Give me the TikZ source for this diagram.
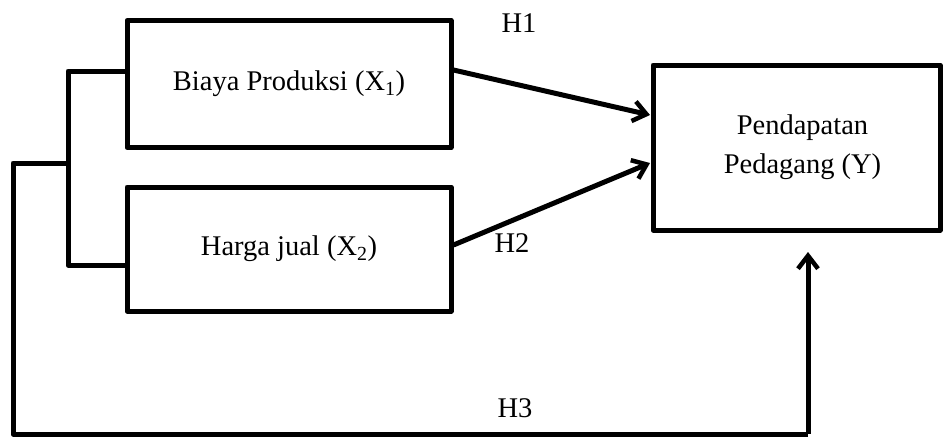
\documentclass[tikz,border=0pt]{standalone}
\usepackage{fontspec}
\setmainfont{Liberation Serif}
\usetikzlibrary{arrows.meta}
\begin{document}
\begin{tikzpicture}[x=1pt,y=-1pt,
  varbox/.style={draw,line width=5pt,line join=round,minimum width=#1,inner sep=0pt,font=\fontsize{28.5}{39}\selectfont,align=center},
  link/.style={line width=5pt,line join=round},
  tip/.style={-{Straight Barb[length=13pt,width=20pt,line width=4.5pt]}},
  lbl/.style={font=\fontsize{28.5}{32}\selectfont}]
\useasboundingbox (0,0) rectangle (944,437);
% variable boxes
\node[varbox=324pt,minimum height=127pt] (x1) at (289,84) {Biaya Produksi (X\textsubscript{1})};
\node[varbox=324pt,minimum height=124pt] (x2) at (289,249) {Harga jual (X\textsubscript{2})};
\node[varbox=287pt,minimum height=165pt] (y) at (796.5,147.5) {};
\node[font=\fontsize{28.5}{39}\selectfont,align=center] (ylbl) at ([xshift=6pt]y.center) {Pendapatan\\Pedagang (Y)};
% bracket joining the two independent variables
\coordinate (bt) at (68,71);
\coordinate (bb) at (68,265);
\coordinate (bm) at (68,163);
\coordinate (ol) at (13,163);
\coordinate (od) at (13,434);
\coordinate (or) at (808,434);
\coordinate (ytip) at (808,252);
\draw[link] (x1.west |- bt) -- (bt) -- (bb) -- (x2.west |- bb);
\draw[link] (bm) -- (ol) -- (od) -- (or);
\draw[link,tip] (or) -- (ytip);
% direct effects
\coordinate (a1) at (650,115);
\coordinate (a2) at (650,163);
\draw[link,tip] (x1.east |- 0,70) -- (a1);
\draw[link,tip] (x2.east |- 0,245) -- (a2);
% hypothesis labels
\node[lbl] (h1) at (519,23) {H1};
\node[lbl] (h2) at (512,243) {H2};
\node[lbl] (h3) at (515,408) {H3};
\end{tikzpicture}
\end{document}
